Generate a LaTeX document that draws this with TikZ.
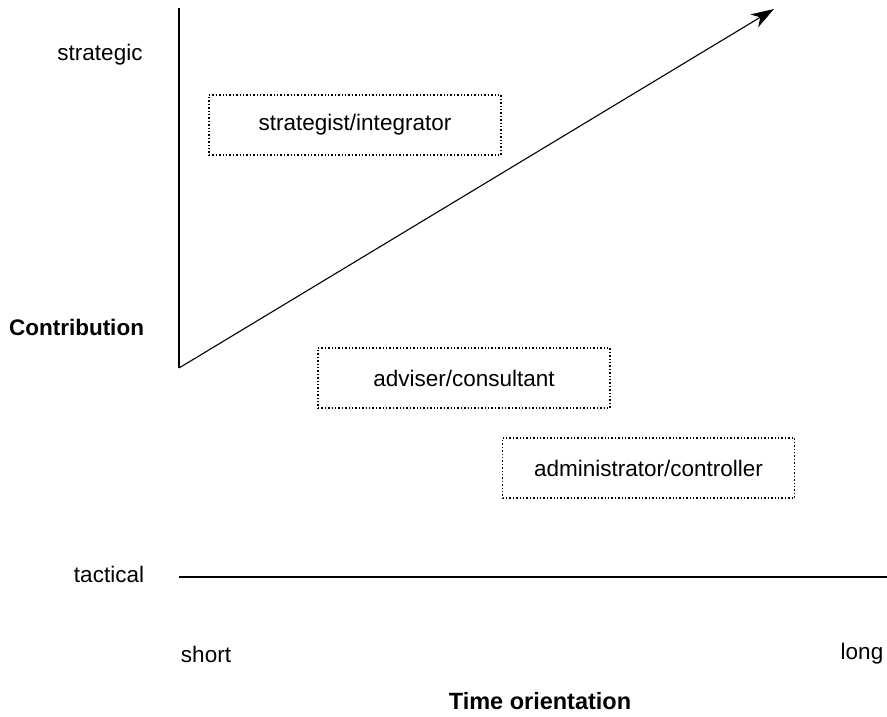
\documentclass[tikz,border=0pt]{standalone}
\usepackage{fontspec}
\setmainfont{Liberation Sans}
\usetikzlibrary{arrows.meta}
\begin{document}
\begin{tikzpicture}[x=1pt,y=-1pt,
  axis/.style={line width=1.1pt},
  rolebox/.style={draw, dotted, line width=1.4pt, minimum width=292pt, minimum height=60pt, font=\fontsize{22.5}{26}\selectfont},
  lbl/.style={font=\fontsize{22.5}{26}\selectfont},
  blbl/.style={font=\bfseries\fontsize{22.5}{26}\selectfont}]
\useasboundingbox (0,0) rectangle (887,716);
\coordinate (origin) at (179,368);
\coordinate (vtop) at (179,8);
\coordinate (tip) at (774,9);
\coordinate (hl) at (179,577);
\coordinate (hr) at (887,577);
\draw[axis] (vtop) -- (origin);
\draw[axis, -{Stealth[length=23pt,width=15pt,inset=7pt]}] (origin) -- (tip);
\draw[axis] (hl) -- (hr);
\node[rolebox] (s) at (355,125) {strategist/integrator};
\node[rolebox] (a) at (464,378) {adviser/consultant};
\node[rolebox] (c) at (648.5,468) {administrator/controller};
\node[lbl] (strat) at (100,55) {strategic};
\node[blbl] (contrib) at (76.5,327) {Contribution};
\node[lbl] (tact) at (109,574) {tactical};
\node[lbl] (short) at (206,654) {short};
\node[lbl] (long) at (862,654) {long};
\node[blbl, font=\bfseries\fontsize{23.5}{26}\selectfont, inner sep=0pt, anchor=base] (time) at (540,709) {Time orientation};
\end{tikzpicture}
\end{document}
